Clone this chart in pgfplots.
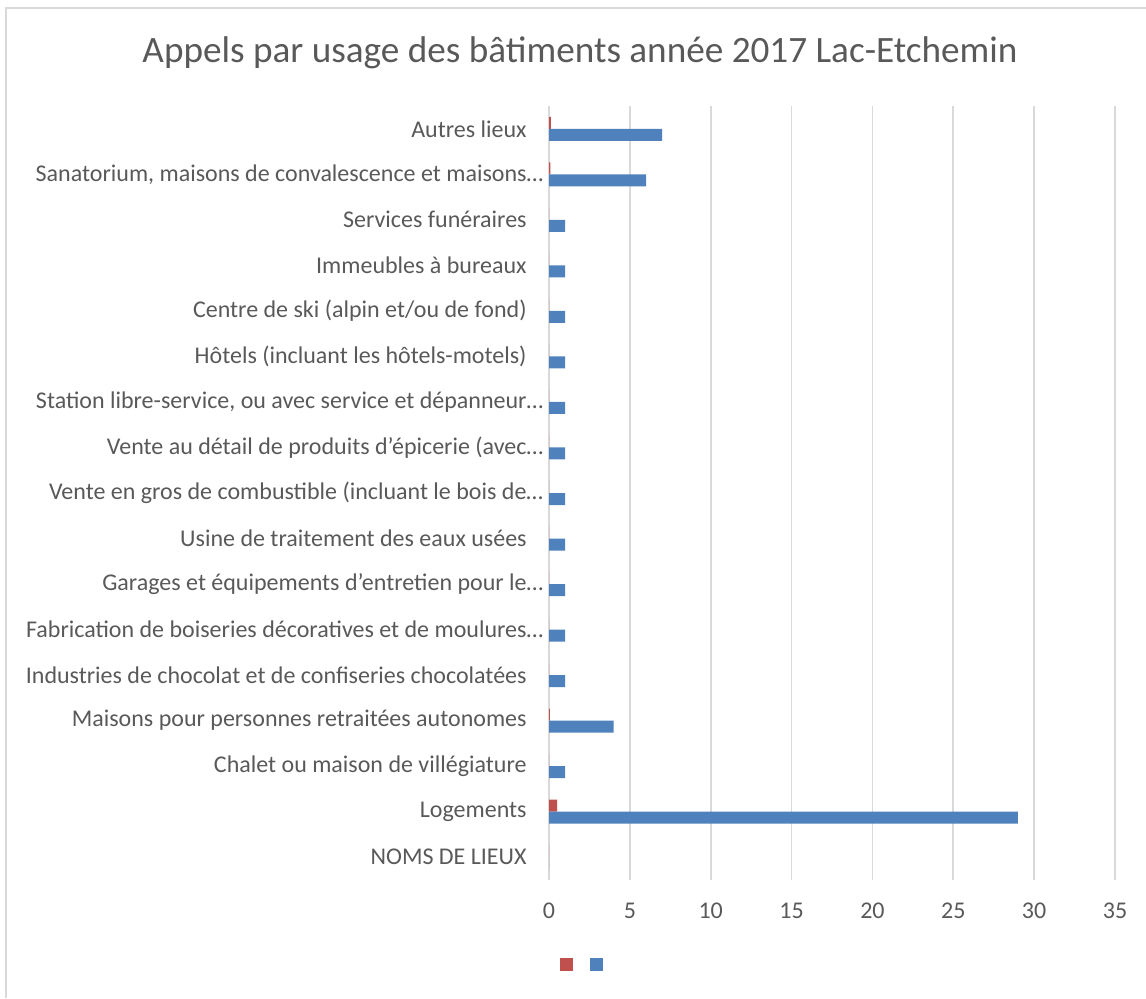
\documentclass[border=0pt]{standalone}
\usepackage{pgfplots}
\pgfplotsset{compat=1.18}
\usepackage{fontspec}
\setmainfont{Carlito}
\definecolor{txt}{HTML}{595959}
\definecolor{gridc}{HTML}{D9D9D9}
\definecolor{sblue}{HTML}{4F81BD}
\definecolor{sred}{HTML}{C0504D}
\begin{document}
\begin{tikzpicture}[x=1pt,y=1pt]
\useasboundingbox (0,0) rectangle (573,499);
\draw[gridc, line width=1pt] (3,0) -- (3,495) -- (573,495);
\node[txt, font=\fontsize{18.6}{22}\selectfont] at (290,472.5) {Appels par usage des bâtiments année 2017 Lac-Etchemin};
\begin{axis}[
  at={(274.5pt,59pt)}, anchor=south west,
  scale only axis, width=283pt, height=387pt,
  xbar, bar width=6pt,
  xmin=0, xmax=35, ymin=-0.5, ymax=16.5,
  xtick={0,5,...,35},
  ytick={0,...,16},
  yticklabels={NOMS DE LIEUX, Logements, Chalet ou maison de villégiature, Maisons pour personnes retraitées autonomes, Industries de chocolat et de confiseries chocolatées, Fabrication de boiseries décoratives et de moulures\rlap{…}, Garages et équipements d’entretien pour le\rlap{…}, Usine de traitement des eaux usées, Vente en gros de combustible (incluant le bois de\rlap{…}, Vente au détail de produits d’épicerie (avec\rlap{…}, Station libre-service{,} ou avec service et dépanneur\rlap{…}, Hôtels (incluant les hôtels-motels), Centre de ski (alpin et/ou de fond), Immeubles à bureaux, Services funéraires, {Sanatorium, maisons de convalescence et maisons\rlap{…}}, Autres lieux},
  major tick length=0pt,
  xmajorgrids, grid style={gridc, line width=0.8pt},
  axis line style={draw=none},
  tick label style={txt, font=\fontsize{12}{14}\selectfont},
  /pgf/number format/assume math mode=true,
  yticklabel style={inner sep=0pt, xshift=-11pt},
  xticklabel style={yshift=-8pt},
  legend style={draw=none, at={(0.0645,-0.1098)}, anchor=center, legend columns=2, /tikz/every even column/.append style={column sep=4.5pt}, inner sep=0pt},
  legend image code/.code={\fill[#1] (0pt,-3.25pt) rectangle (6.5pt,3.25pt);},
]
\addplot[fill=sred, draw=none, bar shift=3pt] coordinates {
(0,0) (0.5,1) (0,2) (0.05,3) (0,4) (0,5) (0,6) (0,7) (0,8) (0,9) (0,10) (0,11) (0,12) (0,13) (0,14) (0.08,15) (0.12,16)};
\addlegendentry{}
\addplot[fill=sblue, draw=none, bar shift=-3pt] coordinates {
(0,0) (29,1) (1,2) (4,3) (1,4) (1,5) (1,6) (1,7) (1,8) (1,9) (1,10) (1,11) (1,12) (1,13) (1,14) (6,15) (7,16)};
\addlegendentry{}
\end{axis}
\end{tikzpicture}
\end{document}
